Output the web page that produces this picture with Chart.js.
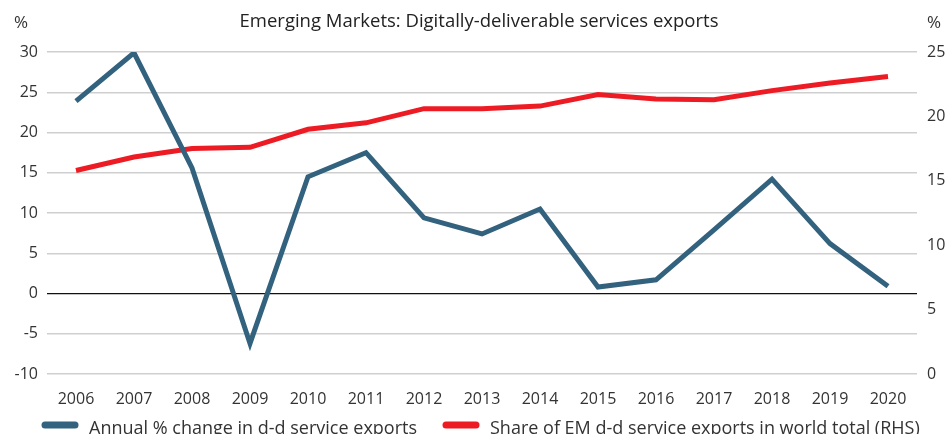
<!DOCTYPE html>
<html>
<head>
<meta charset="utf-8">
<script src="https://cdn.jsdelivr.net/npm/chart.js@4.4.0/dist/chart.umd.min.js"></script>
<style>
  html, body { margin: 0; padding: 0; background: #fff; }
  #wrap { width: 948px; height: 434px; position: relative; }
</style>
</head>
<body>
<div id="wrap"><canvas id="emChart"></canvas></div>
<script>
// data
const years = ['2006', '2007', '2008', '2009', '2010', '2011', '2012', '2013', '2014', '2015', '2016', '2017', '2018', '2019', '2020'];
const annualChange = [23.9, 29.9, 15.6, -6.2, 14.5, 17.5, 9.4, 7.4, 10.5, 0.8, 1.7, 7.9, 14.2, 6.2, 0.9];
const worldShare = [15.8, 16.85, 17.5, 17.6, 19.0, 19.5, 20.6, 20.6, 20.8, 21.7, 21.35, 21.3, 22.0, 22.6, 23.1];
const leftTicks = [-10, -5, 0, 5, 10, 15, 20, 25, 30];
const rightTicks = [0, 5, 10, 15, 20, 25];

const FONT = '"Open Sans", Lato, sans-serif';
const TEXT = '#333';
const BLUE = '#33627e';
const RED = '#ed1c24';

// title, "%" unit labels and the bottom legend
const decorations = {
  id: 'decorations',
  afterDraw(chart) {
    const ctx = chart.ctx;
    ctx.save();
    ctx.fillStyle = TEXT;
    ctx.textBaseline = 'middle';

    ctx.font = '17px ' + FONT;
    ctx.textAlign = 'left';
    ctx.fillText('%', 14, 23);
    ctx.fillText('%', 927, 23);

    ctx.textAlign = 'center';
    ctx.fillStyle = '#222';
    ctx.font = '18.5px ' + FONT;
    ctx.fillText('Emerging Markets: Digitally-deliverable services exports', 479, 22);

    // legend
    const items = [
      { text: 'Annual % change in d-d service exports', color: BLUE, x: 42 },
      { text: 'Share of EM d-d service exports in world total (RHS)', color: RED, x: 443 }
    ];
    ctx.font = '18px ' + FONT;
    ctx.textAlign = 'left';
    items.forEach(it => {
      ctx.strokeStyle = it.color;
      ctx.lineWidth = 7;
      ctx.lineCap = 'round';
      ctx.beginPath();
      ctx.moveTo(it.x + 3, 425);
      ctx.lineTo(it.x + 33, 425);
      ctx.stroke();
      ctx.fillStyle = TEXT;
      ctx.fillText(it.text, it.x + 47, 429);
    });
    ctx.restore();
  }
};

new Chart(document.getElementById('emChart'), {
  type: 'line',
  data: {
    labels: years,
    datasets: [
      {
        label: 'Annual % change in d-d service exports',
        data: annualChange,
        borderColor: BLUE,
        backgroundColor: BLUE,
        borderWidth: 5,
        pointRadius: 0,
        tension: 0,
        yAxisID: 'y'
      },
      {
        label: 'Share of EM d-d service exports in world total (RHS)',
        data: worldShare,
        borderColor: RED,
        backgroundColor: RED,
        borderWidth: 5,
        pointRadius: 0,
        tension: 0,
        yAxisID: 'y1'
      }
    ]
  },
  options: {
    responsive: true,
    maintainAspectRatio: false,
    animation: false,
    layout: { padding: { left: 0, right: 0, top: 52, bottom: 26 } },
    plugins: {
      title: { display: false },
      legend: { display: false },
      tooltip: { enabled: false }
    },
    scales: {
      x: {
        offset: true,
        afterFit: axis => { axis.height = 34; },
        grid: { display: false },
        border: { display: false },
        ticks: { color: TEXT, font: { family: FONT, size: 16 }, maxRotation: 0, padding: 8 }
      },
      y: {
        position: 'left',
        min: -10,
        max: 30,
        afterBuildTicks: axis => { axis.ticks = leftTicks.map(v => ({ value: v })); },
        afterFit: axis => { axis.width = 47; },
        border: { display: false },
        grid: {
          color: ctx => ctx.tick && ctx.tick.value === 0 ? '#111' : '#cfcfcf',
          lineWidth: ctx => ctx.tick && ctx.tick.value === 0 ? 1.2 : 1.5,
          drawTicks: false
        },
        ticks: { color: TEXT, font: { family: FONT, size: 16 }, padding: 9 }
      },
      y1: {
        position: 'right',
        min: 0,
        max: 25,
        afterBuildTicks: axis => { axis.ticks = rightTicks.map(v => ({ value: v })); },
        afterFit: axis => { axis.width = 31; },
        border: { display: false },
        grid: { display: false, drawTicks: false },
        ticks: { color: TEXT, font: { family: FONT, size: 16 }, padding: 10 }
      }
    }
  },
  plugins: [decorations]
});
</script>
</body>
</html>
